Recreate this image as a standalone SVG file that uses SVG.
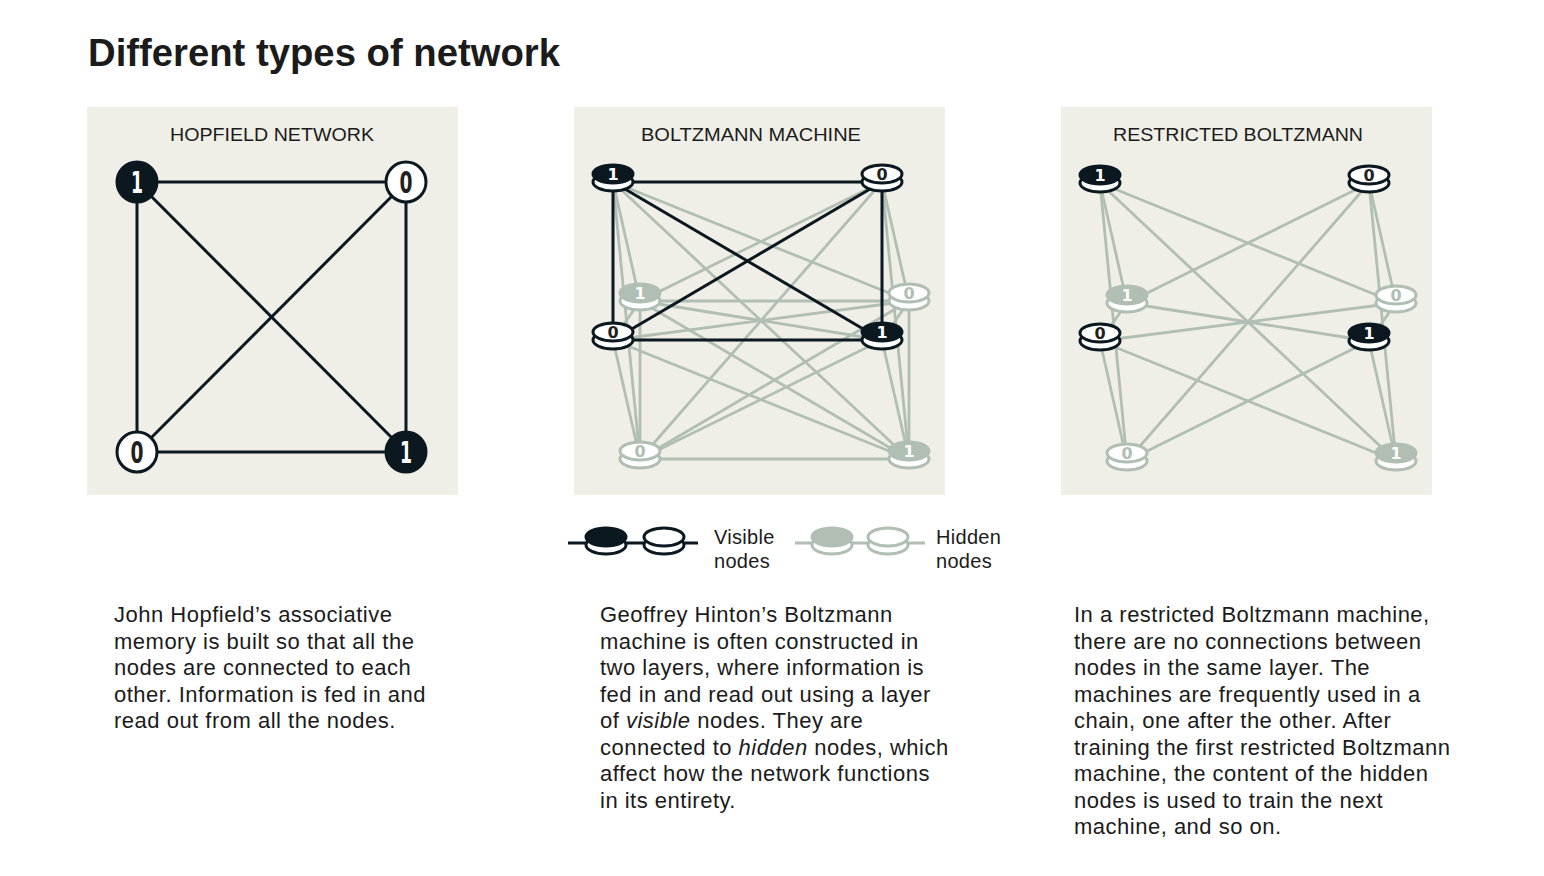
<svg xmlns="http://www.w3.org/2000/svg" width="1544" height="876" viewBox="0 0 1544 876">
<style>
.bg{fill:#f0efe7}
.title{font-family:"Liberation Sans",Arial,sans-serif;font-weight:bold;font-size:38px;fill:#1b1b1b}
.ptitle{font-family:"Liberation Sans",Arial,sans-serif;font-size:19px;fill:#1b1b1b;text-anchor:middle}
.body{font-family:"Liberation Sans",Arial,sans-serif;font-size:22px;letter-spacing:0.5px;fill:#1b1b1b}
.leg{font-family:"Liberation Sans",Arial,sans-serif;font-size:20px;letter-spacing:0.3px;fill:#1b1b1b}
.dk{stroke:#0b1820;stroke-width:3;fill:none}
.gr{stroke:#b0beb3;stroke-width:2.8;fill:none}
.hnum{font-family:"DejaVu Sans Condensed","DejaVu Sans",sans-serif;font-weight:bold;font-size:30px;text-anchor:middle}
.cnum{font-family:"DejaVu Sans","Liberation Sans",sans-serif;font-weight:bold;font-size:16px;text-anchor:middle}
</style>
<defs>
<g id="coinDark">
<ellipse cx="0" cy="8" rx="20" ry="9" fill="#ffffff" stroke="#0b1820" stroke-width="3"/>
<ellipse cx="0" cy="0" rx="20" ry="9" fill="#0b1820" stroke="#0b1820" stroke-width="3"/>
</g>
<g id="coinWhite">
<ellipse cx="0" cy="8" rx="20" ry="9" fill="#ffffff" stroke="#0b1820" stroke-width="3"/>
<ellipse cx="0" cy="0" rx="20" ry="9" fill="#ffffff" stroke="#0b1820" stroke-width="3"/>
</g>
<g id="coinGray">
<ellipse cx="0" cy="8" rx="20" ry="9" fill="#ffffff" stroke="#b0beb3" stroke-width="3"/>
<ellipse cx="0" cy="0" rx="20" ry="9" fill="#b0beb3" stroke="#b0beb3" stroke-width="3"/>
</g>
<g id="coinGrayWhite">
<ellipse cx="0" cy="8" rx="20" ry="9" fill="#ffffff" stroke="#b0beb3" stroke-width="3"/>
<ellipse cx="0" cy="0" rx="20" ry="9" fill="#ffffff" stroke="#b0beb3" stroke-width="3"/>
</g>
</defs>
<rect width="1544" height="876" fill="#ffffff"/>
<text class="title" x="88" y="66" textLength="472" lengthAdjust="spacingAndGlyphs">Different types of network</text>

<!-- panels -->
<rect class="bg" x="87" y="107" width="371" height="388"/>
<rect class="bg" x="574" y="107" width="371" height="388"/>
<rect class="bg" x="1061" y="107" width="371" height="388"/>
<text class="ptitle" x="272" y="141" textLength="204" lengthAdjust="spacingAndGlyphs">HOPFIELD NETWORK</text>
<text class="ptitle" x="751" y="141" textLength="220" lengthAdjust="spacingAndGlyphs">BOLTZMANN MACHINE</text>
<text class="ptitle" x="1238" y="141" textLength="250" lengthAdjust="spacingAndGlyphs">RESTRICTED BOLTZMANN</text>

<!-- Hopfield connectors -->
<g id="hopfield-connectors" class="dk">
<line x1="137" y1="182" x2="406" y2="182"/>
<line x1="137" y1="452" x2="406" y2="452"/>
<line x1="137" y1="182" x2="137" y2="452"/>
<line x1="406" y1="182" x2="406" y2="452"/>
<line x1="137" y1="182" x2="406" y2="452"/>
<line x1="406" y1="182" x2="137" y2="452"/>
</g>
<g id="hop-n1"><circle cx="137" cy="182" r="20" fill="#0b1820" stroke="#0b1820" stroke-width="3"/><text class="hnum" x="137" y="193" fill="#ffffff" textLength="12" lengthAdjust="spacingAndGlyphs">1</text></g>
<g id="hop-n2"><circle cx="406" cy="182" r="20" fill="#ffffff" stroke="#0b1820" stroke-width="3"/><text class="hnum" x="406" y="193" fill="#231f20" textLength="13" lengthAdjust="spacingAndGlyphs">0</text></g>
<g id="hop-n3"><circle cx="137" cy="452" r="20" fill="#ffffff" stroke="#0b1820" stroke-width="3"/><text class="hnum" x="137" y="463" fill="#231f20" textLength="13" lengthAdjust="spacingAndGlyphs">0</text></g>
<g id="hop-n4"><circle cx="406" cy="452" r="20" fill="#0b1820" stroke="#0b1820" stroke-width="3"/><text class="hnum" x="406" y="463" fill="#ffffff" textLength="12" lengthAdjust="spacingAndGlyphs">1</text></g>

<!-- Boltzmann connectors -->
<g id="boltzmann-connectors">
<g class="gr">
<line x1="640" y1="301" x2="909" y2="301"/>
<line x1="640" y1="459" x2="909" y2="459"/>
<line x1="640" y1="301" x2="640" y2="459"/>
<line x1="909" y1="301" x2="909" y2="459"/>
<line x1="640" y1="301" x2="909" y2="459"/>
<line x1="909" y1="301" x2="640" y2="459"/>
<line x1="613" y1="182" x2="640" y2="301"/>
<line x1="613" y1="182" x2="909" y2="301"/>
<line x1="613" y1="182" x2="640" y2="459"/>
<line x1="613" y1="182" x2="909" y2="459"/>
<line x1="882" y1="182" x2="640" y2="301"/>
<line x1="882" y1="182" x2="909" y2="301"/>
<line x1="882" y1="182" x2="640" y2="459"/>
<line x1="882" y1="182" x2="909" y2="459"/>
<line x1="613" y1="340" x2="640" y2="301"/>
<line x1="613" y1="340" x2="909" y2="301"/>
<line x1="613" y1="340" x2="640" y2="459"/>
<line x1="613" y1="340" x2="909" y2="459"/>
<line x1="882" y1="340" x2="640" y2="301"/>
<line x1="882" y1="340" x2="909" y2="301"/>
<line x1="882" y1="340" x2="640" y2="459"/>
<line x1="882" y1="340" x2="909" y2="459"/>
</g>
<g class="dk">
<line x1="613" y1="182" x2="882" y2="182"/>
<line x1="613" y1="340" x2="882" y2="340"/>
<line x1="613" y1="182" x2="613" y2="340"/>
<line x1="882" y1="182" x2="882" y2="340"/>
<line x1="613" y1="182" x2="882" y2="340"/>
<line x1="882" y1="182" x2="613" y2="340"/>
</g>
</g>
<g id="bm-h1"><use href="#coinGray" x="640" y="293"/><text class="cnum" x="640" y="299" fill="#ffffff">1</text></g>
<g id="bm-h2"><use href="#coinGrayWhite" x="909" y="293"/><text class="cnum" x="909" y="299" fill="#b0beb3">0</text></g>
<g id="bm-h3"><use href="#coinGrayWhite" x="640" y="451"/><text class="cnum" x="640" y="457" fill="#b0beb3">0</text></g>
<g id="bm-h4"><use href="#coinGray" x="909" y="451"/><text class="cnum" x="909" y="457" fill="#ffffff">1</text></g>
<g id="bm-v1"><use href="#coinDark" x="613" y="174"/><text class="cnum" x="613" y="180" fill="#ffffff">1</text></g>
<g id="bm-v2"><use href="#coinWhite" x="882" y="174"/><text class="cnum" x="882" y="180" fill="#231f20">0</text></g>
<g id="bm-v3"><use href="#coinWhite" x="613" y="332"/><text class="cnum" x="613" y="338" fill="#231f20">0</text></g>
<g id="bm-v4"><use href="#coinDark" x="882" y="332"/><text class="cnum" x="882" y="338" fill="#ffffff">1</text></g>

<!-- Restricted connectors -->
<g id="rbm-connectors" class="gr">
<line x1="1100" y1="183" x2="1127" y2="303"/>
<line x1="1100" y1="183" x2="1396" y2="303"/>
<line x1="1100" y1="183" x2="1127" y2="461"/>
<line x1="1100" y1="183" x2="1396" y2="461"/>
<line x1="1369" y1="183" x2="1127" y2="303"/>
<line x1="1369" y1="183" x2="1396" y2="303"/>
<line x1="1369" y1="183" x2="1127" y2="461"/>
<line x1="1369" y1="183" x2="1396" y2="461"/>
<line x1="1100" y1="341" x2="1127" y2="303"/>
<line x1="1100" y1="341" x2="1396" y2="303"/>
<line x1="1100" y1="341" x2="1127" y2="461"/>
<line x1="1100" y1="341" x2="1396" y2="461"/>
<line x1="1369" y1="341" x2="1127" y2="303"/>
<line x1="1369" y1="341" x2="1396" y2="303"/>
<line x1="1369" y1="341" x2="1127" y2="461"/>
<line x1="1369" y1="341" x2="1396" y2="461"/>
</g>
<g id="rbm-h1"><use href="#coinGray" x="1127" y="295"/><text class="cnum" x="1127" y="301" fill="#ffffff">1</text></g>
<g id="rbm-h2"><use href="#coinGrayWhite" x="1396" y="295"/><text class="cnum" x="1396" y="301" fill="#b0beb3">0</text></g>
<g id="rbm-h3"><use href="#coinGrayWhite" x="1127" y="453"/><text class="cnum" x="1127" y="459" fill="#b0beb3">0</text></g>
<g id="rbm-h4"><use href="#coinGray" x="1396" y="453"/><text class="cnum" x="1396" y="459" fill="#ffffff">1</text></g>
<g id="rbm-v1"><use href="#coinDark" x="1100" y="175"/><text class="cnum" x="1100" y="181" fill="#ffffff">1</text></g>
<g id="rbm-v2"><use href="#coinWhite" x="1369" y="175"/><text class="cnum" x="1369" y="181" fill="#231f20">0</text></g>
<g id="rbm-v3"><use href="#coinWhite" x="1100" y="333"/><text class="cnum" x="1100" y="339" fill="#231f20">0</text></g>
<g id="rbm-v4"><use href="#coinDark" x="1369" y="333"/><text class="cnum" x="1369" y="339" fill="#ffffff">1</text></g>

<!-- Legend -->
<g id="legend-visible">
<line class="dk" x1="568" y1="543" x2="698" y2="543"/>
<use href="#coinDark" x="606" y="537"/>
<use href="#coinWhite" x="664" y="537"/>
<text class="leg" x="714" y="544">Visible</text>
<text class="leg" x="714" y="568">nodes</text>
</g>
<g id="legend-hidden">
<line class="gr" x1="795" y1="543" x2="925" y2="543" stroke-width="3"/>
<use href="#coinGray" x="832" y="537"/>
<use href="#coinGrayWhite" x="888" y="537"/>
<text class="leg" x="936" y="544">Hidden</text>
<text class="leg" x="936" y="568">nodes</text>
</g>

<!-- Body texts -->
<text class="body" x="114" y="622">
<tspan x="114" y="622">John Hopfield’s associative</tspan>
<tspan x="114" y="648.5">memory is built so that all the</tspan>
<tspan x="114" y="675">nodes are connected to each</tspan>
<tspan x="114" y="701.5">other. Information is fed in and</tspan>
<tspan x="114" y="728">read out from all the nodes.</tspan>
</text>
<text class="body" x="600" y="622">
<tspan x="600" y="622">Geoffrey Hinton’s Boltzmann</tspan>
<tspan x="600" y="648.5">machine is often constructed in</tspan>
<tspan x="600" y="675">two layers, where information is</tspan>
<tspan x="600" y="701.5">fed in and read out using a layer</tspan>
<tspan x="600" y="728">of <tspan font-style="italic">visible</tspan> nodes. They are</tspan>
<tspan x="600" y="754.5">connected to <tspan font-style="italic">hidden</tspan> nodes, which</tspan>
<tspan x="600" y="781">affect how the network functions</tspan>
<tspan x="600" y="807.5">in its entirety.</tspan>
</text>
<text class="body" x="1074" y="622">
<tspan x="1074" y="622">In a restricted Boltzmann machine,</tspan>
<tspan x="1074" y="648.5">there are no connections between</tspan>
<tspan x="1074" y="675">nodes in the same layer. The</tspan>
<tspan x="1074" y="701.5">machines are frequently used in a</tspan>
<tspan x="1074" y="728">chain, one after the other. After</tspan>
<tspan x="1074" y="754.5">training the first restricted Boltzmann</tspan>
<tspan x="1074" y="781">machine, the content of the hidden</tspan>
<tspan x="1074" y="807.5">nodes is used to train the next</tspan>
<tspan x="1074" y="834">machine, and so on.</tspan>
</text>
</svg>
